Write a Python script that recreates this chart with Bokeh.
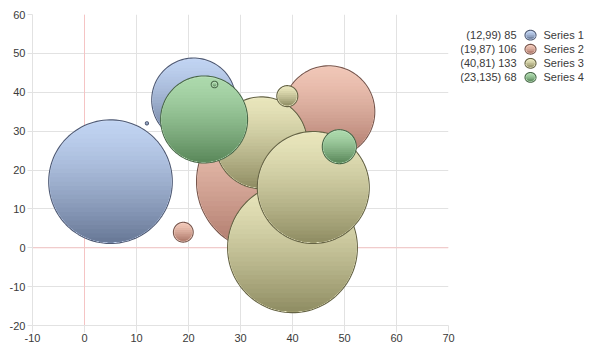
import numpy as np
from bokeh.plotting import figure
from bokeh.models import Range1d, Span, ColumnDataSource, FixedTicker
from bokeh.layouts import row
from bokeh.embed import file_html
from bokeh.resources import INLINE
from bokeh.core.properties import value

# ---------------- data ----------------
series_names = ["Series 1", "Series 2", "Series 3", "Series 4"]
legend_notes = ["(12,99) 85", "(19,87) 106", "(40,81) 133", "(23,135) 68"]

s1_x = [5, 21, 12]
s1_y = [17, 38, 32]
s1_z = [78, 36, 0.05]

s2_x = [19, 35, 47]
s2_y = [4, 17, 35]
s2_z = [2.0, 100, 43]

s3_x = [34, 40, 44, 39]
s3_y = [27, 0, 15.5, 39]
s3_z = [43, 86, 64, 2.25]

s4_x = [23, 25, 49]
s4_y = [33, 42, 26]
s4_z = [38.6, 0.22, 5.9]

x_ticks = [-10, 0, 10, 20, 30, 40, 50, 60, 70]
x_tick_labels = ["-10", "0", "10", "20", "30", "40", "50", "60", "70"]
y_ticks = [-20, -10, 0, 10, 20, 30, 40, 50, 60]
y_tick_labels = ["-20", "-10", "0", "10", "20", "30", "40", "50", "60"]

series = [(s1_x, s1_y, s1_z), (s2_x, s2_y, s2_z), (s3_x, s3_y, s3_z), (s4_x, s4_y, s4_z)]

# ---------------- styles ----------------
top_colors = ["#c0d3f2", "#f0c6b6", "#e8e5bb", "#acd9ac"]
bottom_colors = ["#687896", "#ad786a", "#8f8d63", "#5a885a"]
rim_colors = ["#cbdaf4", "#f5d2c6", "#eeecc9", "#c3e6c3"]
line_colors = ["#4f5a74", "#78564c", "#656344", "#486848"]
FONT = "Liberation Sans"
TEXT_COLOR = "#3a3a3a"
GRID_COLOR = "#e2e2e2"
ZERO_COLOR = "#f5c4c4"
BUBBLE_SCALE = 7.0  # px radius per sqrt(value)
FW, FH = 416, 311


def hex2rgb(c):
    c = c.lstrip("#")
    return tuple(int(c[i:i + 2], 16) for i in (0, 2, 4))


def mix(c1, c2, t):
    a, b = hex2rgb(c1), hex2rgb(c2)
    return "#%02x%02x%02x" % tuple(int(round(a[i] + (b[i] - a[i]) * t)) for i in range(3))


def add_poly(out, xs, ys, fill, fa, line, la):
    out["xs"].append(list(xs))
    out["ys"].append(list(ys))
    out["fill"].append(fill)
    out["fa"].append(fa)
    out["line"].append(line)
    out["la"].append(la)


def bubble_polys(out, cx, cy, R, si, sx, sy):
    """Bubble of pixel radius R drawn as a vertical gradient (sx, sy: data units per px)."""
    th = np.linspace(0, 2 * np.pi, 90)
    add_poly(out, cx + R * np.cos(th) * sx, cy + R * np.sin(th) * sy,
             rim_colors[si], 1.0, rim_colors[si], 0.0)
    Ri = max(R - 1.3, R * 0.5)
    n = int(max(3, min(28, Ri)))
    for k in range(n):
        f = k / n
        h = Ri - 2 * Ri * f
        t0 = np.arcsin(np.clip(h / Ri, -1, 1))
        th = np.linspace(np.pi - t0, 2 * np.pi + t0, 70)
        col = mix(top_colors[si], bottom_colors[si], ((k + 0.5) / n) ** 1.35)
        add_poly(out, cx + Ri * np.cos(th) * sx, cy + Ri * np.sin(th) * sy, col, 1.0, col, 0.0)
    th = np.linspace(0, 2 * np.pi, 120)
    add_poly(out, cx + R * np.cos(th) * sx, cy + R * np.sin(th) * sy,
             "white", 0.0, line_colors[si], 1.0)


# ---------------- main chart ----------------
x_lo, x_hi = x_ticks[0], x_ticks[-1]
y_lo, y_hi = y_ticks[0], y_ticks[-1]
sx = (x_hi - x_lo) / FW
sy = (y_hi - y_lo) / FH

p = figure(frame_width=FW, frame_height=FH,
           x_range=Range1d(x_lo, x_hi), y_range=Range1d(y_lo, y_hi),
           toolbar_location=None, tools="", output_backend="svg",
           min_border_left=32, min_border_right=12, min_border_top=14, min_border_bottom=26,
           outline_line_color=None, background_fill_color="white", border_fill_color="white")

p.xgrid.ticker = FixedTicker(ticks=x_ticks)
p.ygrid.ticker = FixedTicker(ticks=y_ticks)
for g in (p.xgrid, p.ygrid):
    g.grid_line_color = GRID_COLOR
    g.grid_line_width = 1

for ax, t, lab in ((p.xaxis, x_ticks, x_tick_labels), (p.yaxis, y_ticks, y_tick_labels)):
    ax.ticker = FixedTicker(ticks=t)
    ax.major_label_overrides = {tk: lb for tk, lb in zip(t, lab)}
    ax.axis_line_color = GRID_COLOR
    ax.major_tick_line_color = GRID_COLOR
    ax.minor_tick_line_color = None
    ax.major_tick_in = 0
    ax.major_label_text_font = FONT
    ax.major_label_text_font_size = "11px"
    ax.major_label_text_color = TEXT_COLOR
p.xaxis.major_tick_out = 7
p.xaxis.major_label_standoff = 1
p.yaxis.major_tick_out = 5
p.yaxis.major_label_standoff = 2

p.add_layout(Span(location=0, dimension="height", line_color=ZERO_COLOR, line_width=1, level="underlay"))
p.add_layout(Span(location=0, dimension="width", line_color=ZERO_COLOR, line_width=1, level="underlay"))

polys = dict(xs=[], ys=[], fill=[], fa=[], line=[], la=[])
for si, (xs, ys, zs) in enumerate(series):
    for x, y, z in zip(xs, ys, zs):
        r = BUBBLE_SCALE * np.sqrt(z)
        bubble_polys(polys, x, y, r, si, sx, sy)

p.patches("xs", "ys", source=ColumnDataSource(polys), fill_color="fill", fill_alpha="fa",
          line_color="line", line_alpha="la", line_width=1.1)

# ---------------- legend panel ----------------
LW, LH = 131, 351
leg = figure(width=LW, height=LH, x_range=Range1d(0, LW), y_range=Range1d(LH, 0),
             toolbar_location=None, tools="", output_backend="svg",
             min_border=0, x_axis_type=None, y_axis_type=None,
             outline_line_color=None, background_fill_color="white", border_fill_color="white")
leg.grid.visible = False

row_top, row_step = 23.3, 15.9
note_x, mark_x, name_x = 56, 70, 83
ly = [row_top + i * row_step for i in range(len(series_names))]

lpolys = dict(xs=[], ys=[], fill=[], fa=[], line=[], la=[])
for si, yy in enumerate(ly):
    bubble_polys(lpolys, mark_x, yy, 5.5, si, 1.0, -1.0)
leg.patches("xs", "ys", source=ColumnDataSource(lpolys), fill_color="fill", fill_alpha="fa",
            line_color="line", line_alpha="la", line_width=1.1)

tsrc = ColumnDataSource(dict(y=ly, note=legend_notes, name=series_names,
                             nx=[note_x] * len(ly), mx=[name_x] * len(ly)))
leg.text("nx", "y", text="note", source=tsrc, text_align="right", text_baseline="middle",
         text_font=value(FONT), text_font_size="11px", text_color=TEXT_COLOR)
leg.text("mx", "y", text="name", source=tsrc, text_align="left", text_baseline="middle",
         text_font=value(FONT), text_font_size="11px", text_color=TEXT_COLOR)

layout = row(p, leg)
open("out.html", "w").write(file_html(layout, INLINE))
